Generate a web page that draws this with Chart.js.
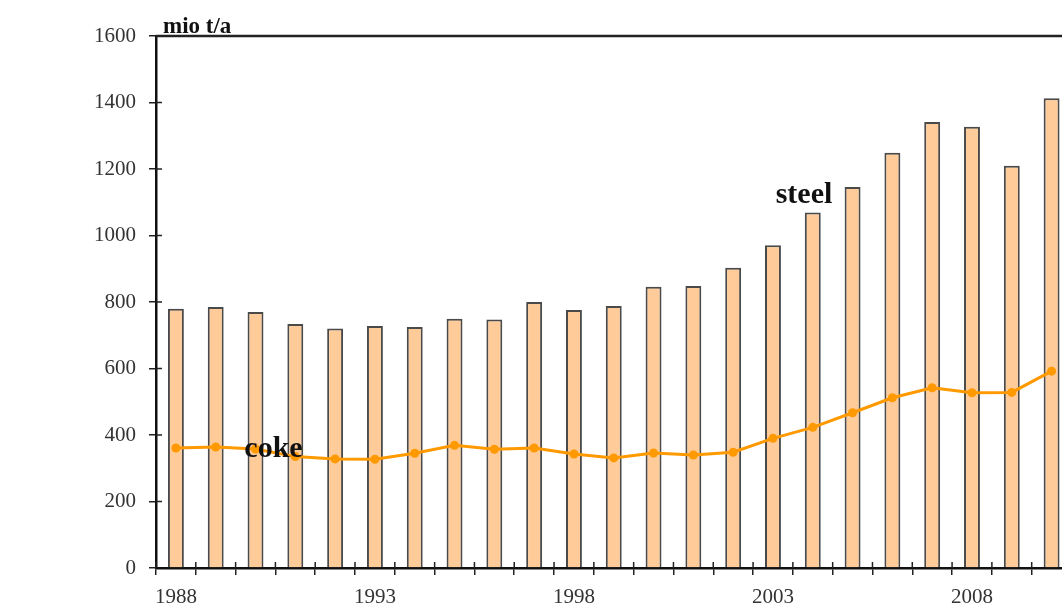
<!DOCTYPE html>
<html lang="en">
<head>
  <meta charset="UTF-8" />
  <title>Steel and coke production</title>
  <script src="https://cdn.jsdelivr.net/npm/chart.js@4.4.0"></script>
  <style>
    * { box-sizing: border-box; margin: 0; padding: 0; }
    html, body { width: 1062px; height: 605px; overflow: hidden; background: #fff; }
    .chart-box { position: relative; width: 1076px; height: 605px; }
  </style>
</head>
<body>
  <div class="chart-box">
    <canvas id="chart"></canvas>
  </div>

  <script>
    // years on the x axis
    const years = ['1988','1989','1990','1991','1992','1993','1994','1995','1996','1997','1998',
                   '1999','2000','2001','2002','2003','2004','2005','2006','2007','2008','2009','2010'];
    // only every 5th year is labelled
    const shownYears = ['1988', '1993', '1998', '2003', '2008'];
    // mio t/a
    const steel = [780, 785, 770, 734, 720, 728, 725, 750, 747, 800, 776,
                   788, 846, 848, 903, 971, 1069, 1146, 1249, 1341, 1327, 1210, 1413];
    const coke  = [361, 364, 358, 335, 328, 327, 345, 369, 357, 361, 343,
                   331, 346, 340, 348, 390, 423, 467, 512, 542, 527, 528, 592];

    const serif = '"Liberation Serif", "DejaVu Serif", serif';

    // ticks crossing the axes + frame top + text labels
    const extras = {
      id: 'extras',
      afterDatasetsDraw(chart) {
        const { ctx, chartArea: a, scales: { x, y } } = chart;
        ctx.save();
        ctx.strokeStyle = '#222';
        ctx.lineWidth = 1.5;
        // inner half of tick marks
        ctx.beginPath();
        for (let i = 0; i <= years.length; i++) {
          const px = a.left + (a.right - a.left) * i / years.length;
          ctx.moveTo(px, a.bottom);
          ctx.lineTo(px, a.bottom - 6);
        }
        for (let v = 200; v <= 1600; v += 200) {
          const py = y.getPixelForValue(v);
          ctx.moveTo(a.left, py);
          ctx.lineTo(a.left + 6, py);
        }
        ctx.stroke();
        // top frame line
        ctx.lineWidth = 2.5;
        ctx.beginPath();
        ctx.moveTo(a.left, a.top);
        ctx.lineTo(a.right, a.top);
        ctx.stroke();

        ctx.fillStyle = '#111';
        ctx.textBaseline = 'alphabetic';
        ctx.font = 'bold 23px ' + serif;
        ctx.fillText('mio t/a', a.left + 7, a.top - 3);
        ctx.font = 'bold 30px ' + serif;
        ctx.textAlign = 'center';
        ctx.fillText('steel', x.getPixelForValue(15) + 31, y.getPixelForValue(1098));
        ctx.fillText('coke', x.getPixelForValue(2) + 18, y.getPixelForValue(334));
        ctx.restore();
      }
    };

    new Chart(document.getElementById('chart'), {
      data: {
        labels: years,
        datasets: [
          {
            type: 'line',
            label: 'coke',
            data: coke,
            borderColor: '#FF9900',
            backgroundColor: '#FF9900',
            borderWidth: 3,
            pointRadius: 4.5,
            pointBackgroundColor: '#FF9900',
            pointBorderWidth: 0,
            tension: 0,
            order: 0
          },
          {
            type: 'bar',
            label: 'steel',
            data: steel,
            backgroundColor: '#FFCC99',
            borderColor: '#4a4a4a',
            borderWidth: 2,
            barPercentage: 0.4,
            categoryPercentage: 1,
            order: 1
          }
        ]
      },
      options: {
        responsive: true,
        maintainAspectRatio: false,
        animation: false,
        layout: { padding: { left: 0, right: 0, top: 36, bottom: 0 } },
        plugins: { legend: { display: false }, tooltip: { enabled: false } },
        scales: {
          x: {
            offset: true,
            afterFit: s => { s.height = 37; },
            grid: { offset: true, drawOnChartArea: false, drawTicks: true, tickLength: 7, color: '#222', lineWidth: 1.5 },
            border: { display: true, color: '#111', width: 2.5 },
            ticks: {
              autoSkip: false,
              maxRotation: 0,
              padding: 10,
              color: '#333',
              font: { family: serif, size: 21 },
              callback: function (v) {
                const lab = this.getLabelForValue(v);
                return shownYears.includes(lab) ? lab : '';
              }
            }
          },
          y: {
            min: 0,
            max: 1600,
            afterFit: s => { s.width = 156; },
            grid: { drawOnChartArea: false, drawTicks: true, tickLength: 7, color: '#222', lineWidth: 1.5 },
            border: { display: true, color: '#111', width: 2.5 },
            ticks: {
              stepSize: 200,
              padding: 13,
              color: '#333',
              font: { family: serif, size: 21 },
              callback: v => String(v)
            }
          }
        }
      },
      plugins: [extras]
    });
  </script>
</body>
</html>
